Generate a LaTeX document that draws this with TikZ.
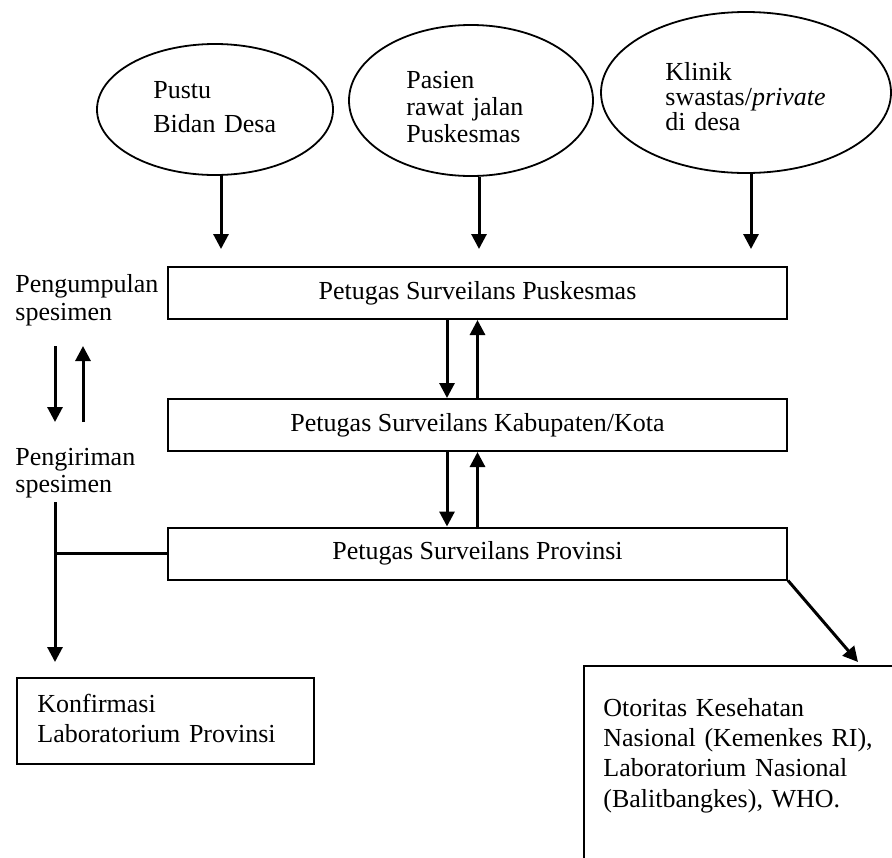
\documentclass[tikz,border=0pt]{standalone}
\usepackage{fontspec}
\setmainfont{Liberation Serif}
\usetikzlibrary{shapes.geometric,arrows.meta}
\begin{document}
\begin{tikzpicture}[x=0.5pt,y=-0.5pt,
    every node/.style={font=\fontsize{13}{15}\selectfont},
    oval/.style={draw,ellipse,line width=0.9pt,inner sep=0pt},
    petugas/.style={draw,line width=1pt,minimum width=309.5pt,minimum height=26pt,inner sep=0pt},
    kotak/.style={draw,line width=1pt,inner sep=0pt,anchor=north west},
    teks/.style={align=left,inner sep=0pt,anchor=base west},
    panah/.style={line width=1.5pt,-{Triangle[width=7.5pt,length=7.5pt]}}]
  \clip (0,0) rectangle (892,857);
  \node[oval,minimum width=118pt,minimum height=65.5pt] (E1) at (215,109.5) {};
  \node[oval,minimum width=122pt,minimum height=75.5pt] (E2) at (471,100.5) {};
  \node[oval,minimum width=145pt,minimum height=80.5pt] (E3) at (746,92.5) {};
  \node[teks,text width=80pt,font=\fontsize{13}{17}\selectfont] (T1) at (153,98) {Pustu\\Bidan Desa};
  \node[teks,text width=80pt,font=\fontsize{13}{13.5}\selectfont] (T2) at (406,88) {Pasien\\rawat jalan\\Puskesmas};
  \node[teks,text width=95pt,font=\fontsize{13}{12.5}\selectfont] (T3) at (665,80) {Klinik\\swastas/\textit{private}\\di desa};

  \node[petugas] (B1) at (477.5,293) {Petugas Surveilans Puskesmas};
  \node[petugas] (B2) at (477.5,425) {Petugas Surveilans Kabupaten/Kota};
  \node[petugas] (B3) at (477.5,553.5) {Petugas Surveilans Provinsi};

  \node[teks,text width=80pt,font=\fontsize{13}{14}\selectfont] (L1) at (15,292) {Pengumpulan\\spesimen};
  \node[teks,text width=80pt,font=\fontsize{13}{13.5}\selectfont] (L2) at (15,465) {Pengiriman\\spesimen};

  \node[kotak,minimum width=148.5pt,minimum height=43pt] (K) at (16,677) {};
  \node[teks,text width=130pt,font=\fontsize{13}{15}\selectfont] (TK) at (37,712) {Konfirmasi\\Laboratorium Provinsi};
  \node[kotak,minimum width=200pt,minimum height=150pt] (O) at (583,665) {};
  \node[teks,text width=140pt,font=\fontsize{13}{15.2}\selectfont] (TO) at (603,716) {Otoritas Kesehatan\\Nasional (Kemenkes RI),\\Laboratorium Nasional\\(Balitbangkes), WHO.};

  \coordinate (a1) at (55,346);
  \coordinate (a2) at (55,422);
  \coordinate (b1) at (83,422);
  \coordinate (b2) at (83,346);
  \coordinate (k0) at (55,502);

  \draw[panah] ([xshift=3pt]E1.south) -- ([xshift=3pt,yshift=8.5pt]E1.south |- B1.north);
  \draw[panah] ([xshift=4pt]E2.south) -- ([xshift=4pt,yshift=8.5pt]E2.south |- B1.north);
  \draw[panah] ([xshift=2.5pt]E3.south) -- ([xshift=2.5pt,yshift=8.5pt]E3.south |- B1.north);
  \draw[panah] ([xshift=-15.25pt]B1.south) -- ([xshift=-15.25pt]B2.north);
  \draw[panah] (B2.north) -- (B1.south);
  \draw[panah] ([xshift=-15.25pt]B2.south) -- ([xshift=-15.25pt]B3.north);
  \draw[panah] (B3.north) -- (B2.south);
  \draw[panah] (a1) -- (a2);
  \draw[panah] (b1) -- (b2);
  \draw[panah] (k0) -- ([yshift=7.5pt]K.north -| k0);
  \draw[line width=1.5pt] (B3.west) -- (B3.west -| k0);
  \draw[panah] (B3.south east) -- ([xshift=137.5pt,yshift=1.5pt]O.north west);
\end{tikzpicture}
\end{document}
